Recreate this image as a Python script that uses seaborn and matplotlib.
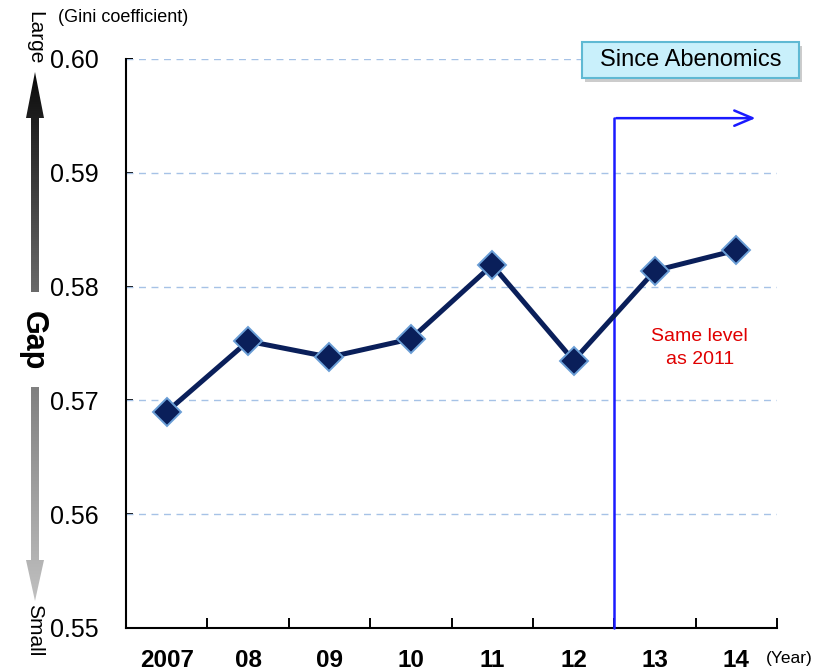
import matplotlib.pyplot as plt
import numpy as np
import pandas as pd
import seaborn as sns
from matplotlib.patches import Polygon, FancyBboxPatch

years = ["2007", "08", "09", "10", "11", "12", "13", "14"]
gini = [0.5690, 0.5752, 0.5738, 0.5754, 0.5819, 0.5735, 0.5814, 0.5832]
y_ticks = [0.55, 0.56, 0.57, 0.58, 0.59, 0.60]
y_tick_labels = ["0.55", "0.56", "0.57", "0.58", "0.59", "0.60"]

df = pd.DataFrame({"year": years, "gini": gini})

sns.set_style("white")
plt.rcParams["font.family"] = ["Liberation Sans", "DejaVu Sans"]
plt.rcParams["text.color"] = "black"
plt.rcParams["xtick.color"] = "black"
plt.rcParams["ytick.color"] = "black"

fig = plt.figure(figsize=(8.27, 6.71), dpi=100)
ax = fig.add_axes([0.1524, 0.0641, 0.7872, 0.848])

# dashed grid lines
for v in y_ticks[1:]:
    ax.axhline(v, color="#a6c2e6", lw=1.0, ls=(0, (5, 4)), zorder=1)

sns.lineplot(data=df, x="year", y="gini", sort=False, ax=ax, color="#0a1f5a",
             lw=3.6, marker="D", markersize=14, markerfacecolor="#0a1f5a",
             markeredgecolor="#6a9ed6", markeredgewidth=1.4, zorder=4)

ax.set_xlim(-0.5, len(years) - 0.5)
ax.set_ylim(0.55, 0.60)
ax.set_yticks(y_ticks)
ax.set_yticklabels(y_tick_labels, fontsize=18)
ax.set_xticks(np.arange(len(years) + 1) - 0.5)
ax.set_xticklabels([])
ax.set_xticks(np.arange(len(years)), minor=True)
ax.set_xticklabels(years, minor=True, fontsize=17.5, fontweight="bold")
ax.tick_params(axis="x", which="major", bottom=True, direction="in", length=7, width=1.4, color="black")
ax.tick_params(axis="x", which="minor", bottom=True, length=0, pad=15, labelcolor="black")
ax.tick_params(axis="y", left=True, direction="in", length=5, width=1.4, color="black",
               pad=20, labelcolor="black")
ax.set_xlabel("")
ax.set_ylabel("")
for s in ["top", "right"]:
    ax.spines[s].set_visible(False)
for s in ["left", "bottom"]:
    ax.spines[s].set_color("black")
    ax.spines[s].set_linewidth(1.5)

# Abenomics marker line and arrow
ax.plot([5.5, 5.5], [0.55, 0.5948], color="#1a1aff", lw=1.8, zorder=3, clip_on=False)
ax.annotate("", xy=(7.27, 0.5948), xytext=(5.49, 0.5948),
            arrowprops=dict(arrowstyle="->,head_length=1.3,head_width=0.55",
                            color="#1a1aff", lw=1.8), zorder=3)
ax.text(6.55, 0.5746, "Same level\nas 2011", color="#e00000", fontsize=14,
        ha="center", va="center", linespacing=1.4)

# overlay in pixel coordinates for the side decorations
ov = fig.add_axes([0, 0, 1, 1], zorder=-1)
ov.set_xlim(0, 827)
ov.set_ylim(671, 0)
ov.axis("off")
ov.patch.set_alpha(0)


def gradient_arrow(pts, y0, y1, c0, c1):
    grad = np.linspace(0, 1, 256).reshape(-1, 1)
    cmap = sns.blend_palette([c0, c1], as_cmap=True)
    im = ov.imshow(grad, cmap=cmap, extent=(20, 50, y1, y0), aspect="auto")
    poly = Polygon(pts, closed=True, transform=ov.transData, facecolor="none", edgecolor="none")
    ov.add_patch(poly)
    im.set_clip_path(poly)


gradient_arrow([(31, 292), (31, 118), (26, 118), (35, 72), (44, 118), (39, 118), (39, 292)],
               72, 292, "#0a0a0a", "#6a6a6a")
gradient_arrow([(31, 387), (31, 560), (26, 560), (35, 601), (44, 560), (39, 560), (39, 387)],
               387, 601, "#808080", "#c0c0c0")
ov.set_xlim(0, 827)
ov.set_ylim(671, 0)

ov.text(35, 38, "Large", rotation=270, ha="center", va="center", fontsize=15)
ov.text(35, 630, "Small", rotation=270, ha="center", va="center", fontsize=15)
ov.text(33, 341, "Gap", rotation=270, ha="center", va="center", fontsize=22, fontweight="bold")
ov.text(58, 17, "(Gini coefficient)", ha="left", va="center", fontsize=13)
ov.text(766, 659, "(Year)", ha="left", va="center", fontsize=12.5)

# Since Abenomics box
top = fig.add_axes([0, 0, 1, 1], zorder=5)
top.set_xlim(0, 827)
top.set_ylim(671, 0)
top.axis("off")
top.patch.set_alpha(0)
top.add_patch(FancyBboxPatch((585, 46), 217, 36, boxstyle="square,pad=0",
                             facecolor="#9a9a9a", edgecolor="none", alpha=0.5))
top.add_patch(FancyBboxPatch((582, 42), 217, 36, boxstyle="square,pad=0",
                             facecolor="#c9f0fb", edgecolor="#5fb9d3", lw=1.5))
top.text(691, 60, "Since Abenomics", ha="center", va="center", fontsize=17)

fig.savefig("out.png", dpi=100)
